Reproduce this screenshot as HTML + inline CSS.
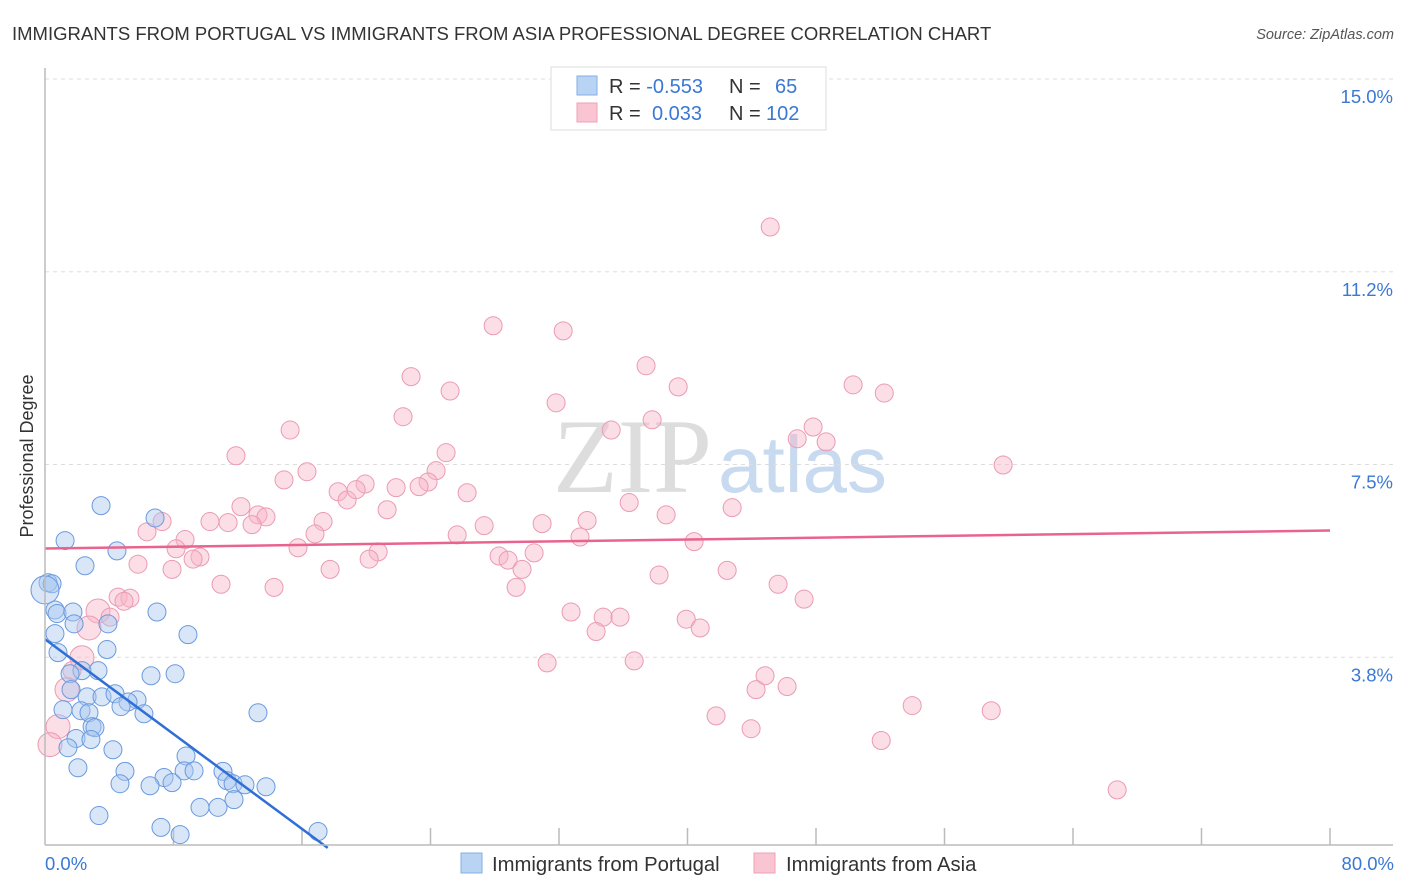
<!DOCTYPE html>
<html><head><meta charset="utf-8"><style>
body{margin:0;background:#fff;font-family:"Liberation Sans",sans-serif;}
svg{display:block}
</style></head><body>
<svg width="1406" height="892" viewBox="0 0 1406 892" id="chart">
<text x="12" y="40" font-size="18.5" fill="#333">IMMIGRANTS FROM PORTUGAL VS IMMIGRANTS FROM ASIA PROFESSIONAL DEGREE CORRELATION CHART</text>
<text x="1394" y="39" font-size="14.5" fill="#555" font-style="italic" text-anchor="end">Source: ZipAtlas.com</text>
<text x="553" y="492" font-size="106" fill="#ddd" font-family="Liberation Serif">ZIP</text>
<text x="718" y="492" font-size="80" fill="#c8daf0">atlas</text>
<text transform="translate(33,456) rotate(-90)" font-size="18" fill="#333" text-anchor="middle">Professional Degree</text>
<g id="grid"></g><g id="pts"></g><g id="lines"></g>
<line x1="45" y1="68" x2="45" y2="845" stroke="#bbb" stroke-width="1.5"/>
<line x1="45" y1="845" x2="1393" y2="845" stroke="#bbb" stroke-width="1.5"/>
<text x="45" y="870" font-size="18.5" fill="#3a78d4">0.0%</text>
<text x="1394" y="870" font-size="18.5" fill="#3a78d4" text-anchor="end">80.0%</text>
<g>
<rect x="551" y="67" width="275" height="63" fill="#fff" stroke="#ddd"/>
<rect x="577" y="76" width="20" height="19" fill="#b9d3f5" stroke="#86aee6"/>
<rect x="577" y="103" width="20" height="19" fill="#f9c5d3" stroke="#eea0b6"/>
<text x="609" y="93" font-size="20" fill="#333">R = <tspan fill="#3a78d4">-0.553</tspan><tspan x="729">N =</tspan><tspan x="775" fill="#3a78d4">65</tspan></text>
<text x="609" y="120" font-size="20" fill="#333">R = <tspan x="652" fill="#3a78d4">0.033</tspan><tspan x="729">N =</tspan><tspan x="766" fill="#3a78d4">102</tspan></text>
</g>
<g>
<rect x="461" y="853" width="21" height="20" fill="#b9d3f5" stroke="#86aee6"/>
<text x="492" y="871" font-size="20.3" fill="#333">Immigrants from Portugal</text>
<rect x="754" y="853" width="21" height="20" fill="#f9c5d3" stroke="#eea0b6"/>
<text x="786" y="871" font-size="20.3" fill="#333">Immigrants from Asia</text>
</g>
</svg>
<script>
const yTicks=[3.75,7.5,11.25,15];
const yTickLabels=["3.8%","7.5%","11.2%","15.0%"];
const xTicks=[16,24,32,40,48,56,64,72,80];
const blueX=[3.49,1.25,4.48,6.85,2.49,0.19,0.44,0.62,0.75,1.74,1.81,3.92,6.97,0.62,8.90,3.86,0.81,3.30,2.30,1.56,6.60,8.10,1.62,2.62,3.55,4.36,5.73,5.17,4.73,1.12,2.24,2.74,6.16,13.26,2.93,3.11,1.93,2.86,1.43,4.23,8.78,2.05,4.98,7.41,8.66,9.28,11.08,4.67,6.54,7.91,11.33,11.71,12.45,13.76,11.77,9.65,10.77,3.36,7.22,8.41,17.00,0.0];
const blueY=[6.70,6.02,5.82,6.46,5.53,5.20,5.18,4.67,4.60,4.63,4.40,4.40,4.63,4.21,4.19,3.90,3.84,3.49,3.49,3.43,3.39,3.43,3.12,2.98,2.98,3.04,2.92,2.88,2.79,2.73,2.71,2.67,2.65,2.67,2.40,2.38,2.17,2.15,1.99,1.95,1.83,1.60,1.53,1.41,1.54,1.54,1.53,1.29,1.25,1.31,1.35,1.29,1.27,1.23,0.98,0.83,0.83,0.67,0.44,0.30,0.36,5.06];
const blueBig=[61];
const pinkX=[45.15,27.90,32.26,37.42,22.79,25.22,39.42,50.31,52.25,31.82,22.29,37.80,15.26,35.25,47.82,46.83,48.63,11.89,24.97,59.65,16.31,14.88,24.35,23.85,23.29,19.93,18.25,18.81,19.37,21.86,26.28,36.37,12.20,21.30,13.26,13.76,38.67,42.78,7.29,17.31,10.27,11.40,12.89,6.35,27.34,30.95,33.75,25.66,16.81,33.31,8.72,40.41,15.75,20.74,20.18,8.16,9.65,9.22,28.27,28.83,30.45,5.79,7.91,29.70,17.75,42.47,38.23,10.96,14.26,29.33,45.64,47.26,4.55,5.29,4.92,3.30,4.05,32.75,34.75,35.80,39.92,40.79,34.31,2.74,31.26,36.68,2.30,44.83,1.68,44.27,46.20,1.37,53.99,58.91,41.78,0.81,43.96,52.06,0.31,66.75];
const pinkY=[12.12,10.20,10.10,9.42,9.21,8.93,9.01,9.05,8.89,8.70,8.43,8.37,8.17,8.17,8.23,8.00,7.94,7.67,7.73,7.49,7.36,7.20,7.38,7.16,7.07,7.12,6.97,6.81,7.01,7.05,6.95,6.76,6.68,6.62,6.52,6.48,6.52,6.66,6.39,6.39,6.39,6.37,6.33,6.19,6.31,6.35,6.41,6.13,6.15,6.09,6.04,6.00,5.88,5.80,5.66,5.86,5.70,5.66,5.72,5.64,5.78,5.56,5.46,5.46,5.46,5.44,5.35,5.17,5.11,5.11,5.17,4.88,4.92,4.90,4.84,4.65,4.53,4.63,4.53,4.53,4.49,4.32,4.25,4.32,3.64,3.68,3.74,3.39,3.49,3.12,3.18,3.12,2.81,2.71,2.61,2.40,2.36,2.13,2.05,1.17];
const pinkBig=[75,83,86,91,95,98];

const NS="http://www.w3.org/2000/svg";
const xs=v=>45+v*(1330-45)/80;
const ys=v=>850-v*(850-79)/15;
function mk(tag,attrs,parent){const e=document.createElementNS(NS,tag);for(const k in attrs)e.setAttribute(k,attrs[k]);parent.appendChild(e);return e;}
const grid=document.getElementById('grid'),pts=document.getElementById('pts'),lines=document.getElementById('lines'),svg=document.getElementById('chart');
yTicks.forEach((t,i)=>{
  const l=mk('line',{x1:45,x2:1393,y1:ys(t),y2:ys(t),stroke:'#ddd','stroke-dasharray':'4,4'},grid);
  
  
  const tx=mk('text',{x:1393,y:ys(t)+24,'font-size':18.5,fill:'#3a78d4','text-anchor':'end'},svg);
  tx.textContent=yTickLabels[i];
  
  
});
xTicks.forEach(t=>{
  const l=mk('line',{x1:xs(t)-128.5,x2:xs(t)-128.5,y1:828,y2:845,stroke:'#bbb','stroke-width':1.5},grid);
  
  
});
const l9=mk('line',{x1:xs(80),x2:xs(80),y1:828,y2:845,stroke:'#bbb','stroke-width':1.5},grid);


function series(X,Y,big,fill,stroke,name){
  X.forEach((x,i)=>{
    const r=big.includes(i)?(name==='portugal-point'?14:12):9;
    const c=mk('circle',{cx:xs(x),cy:ys(Y[i]),r:r,fill:fill,'fill-opacity':0.45,stroke:stroke,'stroke-width':1},pts);
    
    
  });
}
series(pinkX,pinkY,pinkBig,'#f7b6c8','#eb9bb3','asia-point');
series(blueX,blueY,blueBig,'#a9c8f0','#6a9ade','portugal-point');
function fit(X,Y){const n=X.length;let mx=0,my=0;X.forEach((x,i)=>{mx+=x;my+=Y[i];});mx/=n;my/=n;let sxy=0,sxx=0;X.forEach((x,i)=>{sxy+=(x-mx)*(Y[i]-my);sxx+=(x-mx)*(x-mx);});const b=sxy/sxx;return [my-b*mx,b];}
const [ba,bb]=fit(blueX,blueY);
const bx2=Math.min(Math.max(...blueX)+0.6,-ba/bb);
const bl=mk('line',{x1:xs(0),y1:ys(ba),x2:xs(bx2),y2:ys(ba+bb*bx2),stroke:'#2f6fd6','stroke-width':2.5},lines);


const [pa,pb]=fit(pinkX,pinkY);
const pl=mk('line',{x1:xs(0),y1:ys(pa),x2:xs(80),y2:ys(pa+pb*80),stroke:'#e8648f','stroke-width':2.5},lines);


</script>
</body></html>
